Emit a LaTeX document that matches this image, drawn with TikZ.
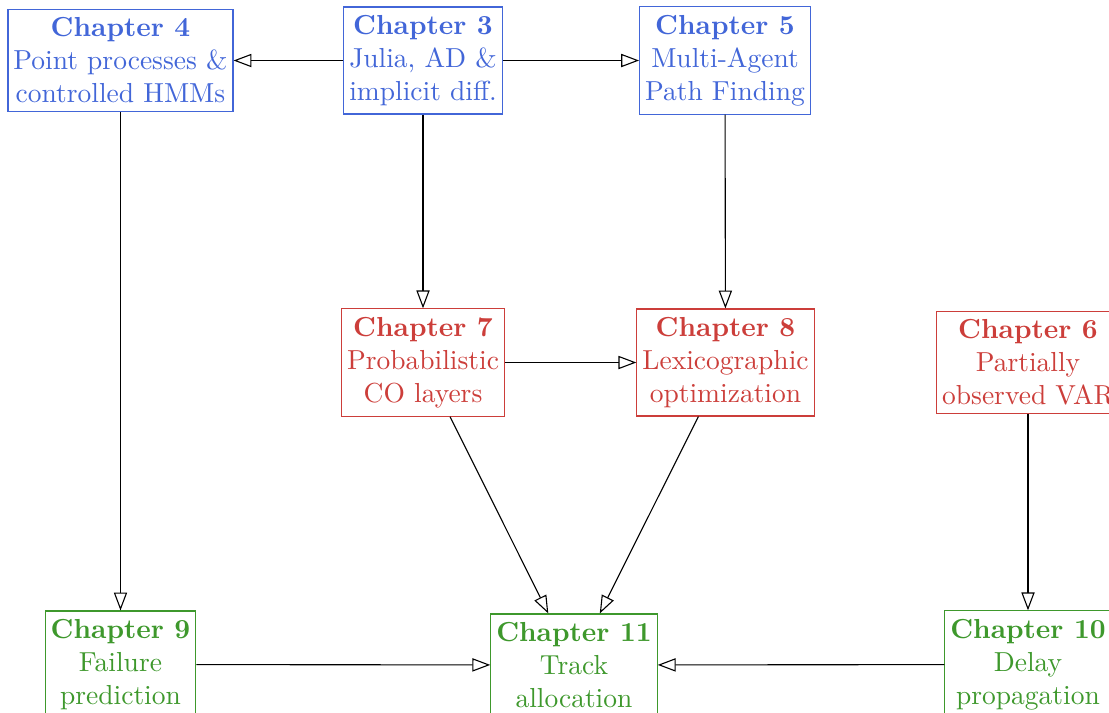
\documentclass[tikz,border=0pt]{standalone}
\usetikzlibrary{arrows.meta}

\definecolor{chblue}{RGB}{66,102,216}
\definecolor{chred}{RGB}{204,62,58}
\definecolor{chgreen}{RGB}{62,152,44}

\tikzset{
	chapbox/.style={draw, thin, align=center, inner xsep=2pt, inner ysep=3pt},
	blueBox/.style={chapbox, draw=chblue, text=chblue},
	redBox/.style={chapbox, draw=chred, text=chred},
	greenBox/.style={chapbox, draw=chgreen, text=chgreen},
	dep/.style={draw=black, thin, -{Triangle[open, length=6.5pt, width=4.8pt]}}
}

\begin{document}
\begin{tikzpicture}[x=0.3636pt, y=-0.3636pt]
	\useasboundingbox (0,0) rectangle (1109,712);
	% top row
	\node[blueBox] (ch4) at (120.5,60.5) {\textbf{Chapter 4}\\Point processes \&\\controlled HMMs};
	\node[blueBox] (ch3) at (423,60.5) {\textbf{Chapter 3}\\Julia, AD \&\\implicit diff.};
	\node[blueBox] (ch5) at (725,60.5) {\textbf{Chapter 5}\\Multi-Agent\\Path Finding};
	% middle row
	\node[redBox] (ch7) at (423,362.5) {\textbf{Chapter 7}\\Probabilistic\\CO layers};
	\node[redBox] (ch8) at (725.5,362.5) {\textbf{Chapter 8}\\Lexicographic\\optimization};
	\node[redBox] (ch6) at (1028,362.5) {\textbf{Chapter 6}\\Partially\\observed VAR};
	% bottom row
	\node[greenBox] (ch9) at (120.5,664.5) {\textbf{Chapter 9}\\Failure\\prediction};
	\node[greenBox] (ch11) at (574,665) {\textbf{Chapter 11}\\Track\\allocation};
	\node[greenBox] (ch10) at (1028,664.5) {\textbf{Chapter 10}\\Delay\\propagation};
	% dependencies
	\draw[dep] (ch3) -- (ch4);
	\draw[dep] (ch3) -- (ch5);
	\draw[dep] (ch3) -- (ch7);
	\draw[dep] (ch5) -- (ch8);
	\draw[dep] (ch7) -- (ch8);
	\draw[dep] (ch4) -- (ch9);
	\draw[dep] (ch7) -- (ch11);
	\draw[dep] (ch8) -- (ch11);
	\draw[dep] (ch6) -- (ch10);
	\draw[dep] (ch9) -- (ch11);
	\draw[dep] (ch10) -- (ch11);
\end{tikzpicture}
\end{document}
